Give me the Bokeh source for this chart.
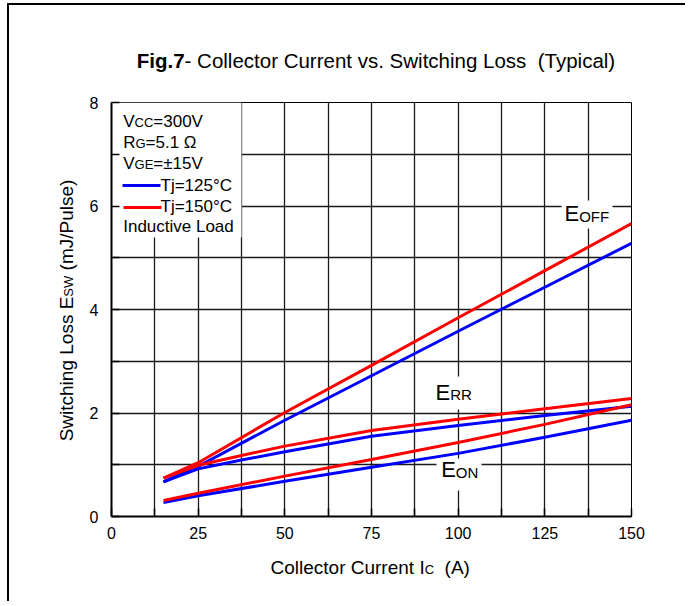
import math
from bokeh.plotting import figure
from bokeh.models import Range1d, FixedTicker, Label
from bokeh.embed import file_html
from bokeh.resources import INLINE

# ---------------- data ----------------
current = [15, 25, 50, 75, 100, 125, 150]
current_err = [15, 25, 37.5, 50, 75, 100, 125, 150]
eoff_125 = [0.67, 0.97, 1.86, 2.72, 3.58, 4.43, 5.28]
eoff_150 = [0.74, 1.04, 2.01, 2.92, 3.84, 4.75, 5.66]
err_125 = [0.67, 0.92, 1.09, 1.25, 1.55, 1.76, 1.95, 2.13]
err_150 = [0.74, 0.99, 1.18, 1.36, 1.66, 1.88, 2.08, 2.28]
eon_125 = [0.27, 0.40, 0.68, 0.95, 1.22, 1.53, 1.86]
eon_150 = [0.31, 0.45, 0.78, 1.10, 1.43, 1.78, 2.16]

x_ticks = [0, 25, 50, 75, 100, 125, 150]
x_minor = [12.5, 37.5, 62.5, 87.5, 112.5, 137.5]
y_ticks = [0, 2, 4, 6, 8]
y_minor = [1, 3, 5, 7]

FONT = "Liberation Sans"
BLUE = "#0000FF"
RED = "#FF0000"

# ---------------- geometry helpers ----------------
CX0, CY0 = 9, 5          # page position of the canvas (margin 7/3 + 2px border)
W, H = 678, 598
BL, BR, BT, BB = 102, 56, 97, 87
FW = W - BL - BR
FH = H - BT - BB
PX_L, PX_T = CX0 + BL, CY0 + BT   # page position of the frame's top-left corner
XMAX, YMAX = 150.0, 8.0


def dx(px):
    return (px - PX_L) * XMAX / FW


def dy(py):
    return YMAX - (py - PX_T) * YMAX / FH


ARIAL = {' ': .278, 'a': .556, 'b': .556, 'c': .5, 'd': .556, 'e': .556, 'f': .278,
         'g': .556, 'h': .556, 'i': .222, 'j': .222, 'k': .5, 'l': .222, 'm': .833,
         'n': .556, 'o': .556, 'p': .556, 'r': .333, 's': .5, 't': .278, 'u': .556,
         'v': .5, 'w': .722, 'y': .5, 'A': .667, 'C': .722, 'E': .667, 'F': .611,
         'G': .778, 'I': .278, 'J': .5, 'L': .556, 'N': .722, 'O': .778, 'P': .667,
         'R': .722, 'S': .667, 'T': .611, 'V': .667, 'W': .944, '(': .333, ')': .333,
         '/': .278, '=': .584, '.': .278, '-': .333, '±': .584, '°': .4, 'Ω': .768}
for d in "0123456789":
    ARIAL[d] = .556
ARIAL_BOLD = {'F': .611, 'i': .278, 'g': .611, '.': .278, '7': .556}


def text_width(t, size, bold=False):
    table = ARIAL_BOLD if bold else ARIAL
    return sum(table.get(ch, ARIAL.get(ch, .556)) for ch in t) * size


p = figure(width=W, height=H, x_range=Range1d(0, XMAX), y_range=Range1d(0, YMAX),
           output_backend="svg", toolbar_location=None,
           min_border_left=BL, min_border_right=BR, min_border_top=BT, min_border_bottom=BB)
p.styles = {"border-left": "2px solid black", "border-top": "2px solid black",
            "margin-left": "7px", "margin-top": "3px"}
p.background_fill_color = "white"
p.border_fill_color = "white"
p.outline_line_color = "black"
p.outline_line_width = 1

# axes
p.xaxis.ticker = FixedTicker(ticks=x_ticks, minor_ticks=x_minor)
p.yaxis.ticker = FixedTicker(ticks=y_ticks, minor_ticks=y_minor)
p.xgrid.ticker = FixedTicker(ticks=sorted(x_ticks + x_minor))
p.ygrid.ticker = FixedTicker(ticks=sorted(y_ticks + y_minor))
for ax in (p.xaxis[0], p.yaxis[0]):
    ax.axis_line_color = "black"
    ax.axis_line_width = 2
    ax.major_tick_in = 8
    ax.major_tick_out = 0
    ax.minor_tick_in = 8
    ax.minor_tick_out = 0
    ax.major_tick_line_width = 1.5
    ax.minor_tick_line_width = 1.5
    ax.major_tick_line_color = "black"
    ax.minor_tick_line_color = "black"
    ax.major_label_text_font = FONT
    ax.major_label_text_font_size = "16px"
    ax.major_label_text_color = "black"
p.xaxis.major_label_standoff = 10
p.yaxis.major_label_standoff = 13
p.grid.grid_line_color = "#1a1a1a"
p.grid.grid_line_width = 1.3

# white boxes that interrupt the grid (legend and curve labels)
boxes = [(111, 241, 102, 237), (561, 612, 200, 228), (432, 476, 376, 409), (436, 481, 458, 490)]
p.quad(left=[dx(b[0]) for b in boxes], right=[dx(b[1]) for b in boxes],
       top=[dy(b[2]) for b in boxes], bottom=[dy(b[3]) for b in boxes],
       fill_color="white", line_color=None)

# curves
for xs, ys, c in [(current, eoff_125, BLUE), (current_err, err_125, BLUE), (current, eon_125, BLUE),
                  (current, eoff_150, RED), (current_err, err_150, RED), (current, eon_150, RED)]:
    p.line(xs, ys, line_color=c, line_width=3)

# legend swatches
p.segment(x0=[dx(122), dx(123)], y0=[dy(185), dy(207)], x1=[dx(160), dx(161)], y1=[dy(185), dy(207)],
          line_color=[BLUE, RED], line_width=3)

MID = 0.35  # distance (in em) from the baseline to the middle of the text


def hpieces(parts, x_page, base_page, place="center"):
    """parts: (text, size, bold, leading_gap_in_spaces)"""
    x = x_page
    for t, size, bold, gap in parts:
        x += text_width(" " * gap, size)
        lbl = Label(x=dx(x), y=dy(base_page - MID * size), text=t, text_font=FONT,
                    text_font_size=f"{size}px",
                    text_font_style="bold" if bold else "normal",
                    text_color="black", text_align="left", text_baseline="middle")
        if place == "center":
            p.add_layout(lbl)
        else:
            p.add_layout(lbl, place)
        x += text_width(t, size, bold)


def vpieces(parts, base_x_page, y_page_start, place="left"):
    y = y_page_start
    for t, size, bold, gap in parts:
        y -= text_width(" " * gap, size)
        lbl = Label(x=dx(base_x_page - MID * size), y=dy(y), text=t, text_font=FONT,
                    text_font_size=f"{size}px", angle=math.pi / 2, angle_units="rad",
                    text_color="black", text_align="left", text_baseline="middle")
        p.add_layout(lbl, place)
        y -= text_width(t, size, bold)


def total_width(parts):
    return sum(text_width(" " * g, s) + text_width(t, s, b) for t, s, b, g in parts)


# title
TS = 20.5
title_parts = [("Fig.7", TS, True, 0), ("- Collector Current vs. Switching Loss", TS, False, 0),
               ("(Typical)", TS, False, 2)]
hpieces(title_parts, 376 - total_width(title_parts) / 2, 67, place="above")

# x axis label
hpieces([("Collector Current I", 19, False, 0), ("C", 13, False, 0), ("(A)", 19, False, 2)], 270, 574,
        place="below")

# y axis label
y_parts = [("Switching Loss E", 19, False, 0), ("SW", 13, False, 0), ("(mJ/Pulse)", 19, False, 1)]
vpieces(y_parts, 73, 310 + total_width(y_parts) / 2, place="left")

# legend text
hpieces([("V", 17, False, 0), ("CC", 13, False, 0), ("=300V", 17, False, 0)], 122.7, 126.7)
hpieces([("R", 17, False, 0), ("G", 13, False, 0), ("=5.1 Ω", 17, False, 0)], 122.7, 147.5)
hpieces([("V", 17, False, 0), ("GE", 13, False, 0), ("=±15V", 17, False, 0)], 122.7, 168.5)
hpieces([("Tj=125°C", 17, False, 0)], 160, 190.5)
hpieces([("Tj=150°C", 17, False, 0)], 160, 212)
hpieces([("Inductive Load", 17, False, 0)], 122.7, 232)

# curve labels
hpieces([("E", 22, False, 0), ("OFF", 15, False, 0)], 564, 221)
hpieces([("E", 22, False, 0), ("RR", 15, False, 0)], 435, 399.5)
hpieces([("E", 22, False, 0), ("ON", 15, False, 0)], 440.7, 477)

open("out.html", "w").write(file_html(p, INLINE))
